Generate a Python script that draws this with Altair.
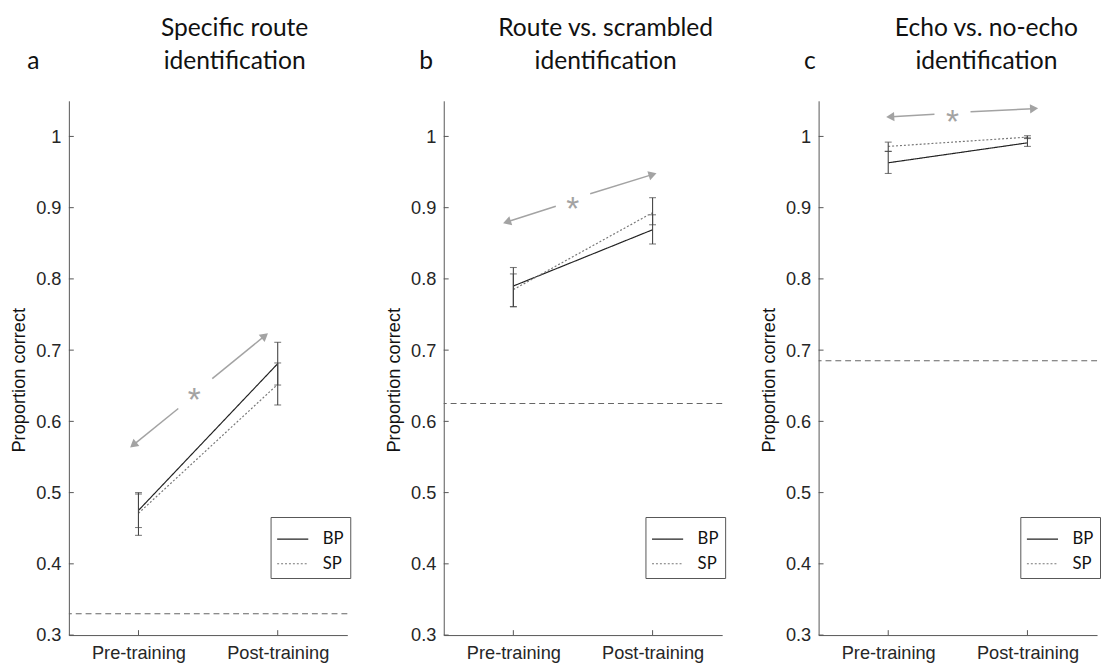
import math
import altair as alt
import pandas as pd

# ---------------- data ----------------
x_pos = [1, 2]
x_labels = ["Pre-training", "Post-training"]
series_names = ["BP", "SP"]
y_ticks = [0.3, 0.4, 0.5, 0.6, 0.7, 0.8, 0.9, 1.0]

# panel a: Specific route identification
bp_a = [0.475, 0.681]
bp_a_lo = [0.451, 0.651]
bp_a_hi = [0.500, 0.711]
sp_a = [0.471, 0.652]
sp_a_lo = [0.440, 0.623]
sp_a_hi = [0.498, 0.682]
chance_a = 0.33
arrow_a_tail_x = [1.286, 1.530]
arrow_a_tail_y = [0.618, 0.660]
arrow_a_tip_x = [0.970, 1.900]
arrow_a_tip_y = [0.568, 0.719]
star_a = [1.40, 0.642]

# panel b: Route vs. scrambled identification
bp_b = [0.790, 0.869]
bp_b_lo = [0.761, 0.849]
bp_b_hi = [0.816, 0.890]
sp_b = [0.785, 0.893]
sp_b_lo = [0.761, 0.876]
sp_b_hi = [0.807, 0.914]
chance_b = 0.625
arrow_b_tail_x = [1.305, 1.552]
arrow_b_tail_y = [0.902, 0.9195]
arrow_b_tip_x = [0.963, 1.991]
arrow_b_tip_y = [0.8805, 0.946]
star_b = [1.427, 0.911]

# panel c: Echo vs. no-echo identification
bp_c = [0.963, 0.991]
bp_c_lo = [0.948, 0.986]
bp_c_hi = [0.979, 0.998]
sp_c = [0.986, 0.999]
sp_c_lo = [0.979, 0.997]
sp_c_hi = [0.992, 1.001]
chance_c = 0.685
arrow_c_tail_x = [1.332, 1.591]
arrow_c_tail_y = [1.0312, 1.0345]
arrow_c_tip_x = [1.024, 2.038]
arrow_c_tip_y = [1.0276, 1.039]
star_c = [1.461, 1.033]

# ---------------- layout / style ----------------
W, H = 283, 543
XDOM = [0.5, 2.5]
YDOM = [0.3, 1.05]
KX = W / (XDOM[1] - XDOM[0])
KY = H / (YDOM[1] - YDOM[0])
AXIS_COLOR = "#555555"
TICK_FONT = "Liberation Sans"
TITLE_FONT = "Lato"
ARROW_COLOR = "#a3a3a3"

label_expr = " : ".join(
    [f"datum.value == {p} ? '{l}'" for p, l in zip(x_pos, x_labels)] + ["''"]
)


def xenc(field):
    return alt.X(
        f"{field}:Q",
        scale=alt.Scale(domain=XDOM, nice=False, zero=False),
        axis=alt.Axis(
            values=x_pos, labelExpr=label_expr, title=None, grid=False,
            ticks=False, tickSize=0, labelPadding=9, labelFontSize=18.5,
            labelFont=TICK_FONT, labelColor="#262626", domainColor=AXIS_COLOR,
            labelFlush=False,
        ),
    )


def yenc(field):
    return alt.Y(
        f"{field}:Q",
        scale=alt.Scale(domain=YDOM, nice=False, zero=False),
        axis=alt.Axis(
            values=y_ticks, format=".1~f", title="Proportion correct", grid=False,
            ticks=False, tickSize=0, labelPadding=8, labelFontSize=18.5,
            labelFont=TICK_FONT, labelColor="#262626", domainColor=AXIS_COLOR,
            titleFont=TICK_FONT, titleFontSize=18.5, titleFontWeight="normal",
            titleColor="#111111", titlePadding=7, labelFlush=False,
            titleY=H / 2 + 12,
        ),
    )


legend = alt.Legend(
    orient="none", legendX=205, legendY=423, title=None, symbolType="stroke",
    symbolSize=1000, symbolStrokeWidth=1.2, labelFont=TITLE_FONT, labelFontSize=17,
    labelColor="#111111", labelOffset=14, padding=6, rowPadding=-4,
    strokeColor="#555555", fillColor="white",
)


def panel(title, title_dx, letter, letter_dx, bp, bp_lo, bp_hi, sp, sp_lo, sp_hi,
          chance, tail_x, tail_y, tip_x, tip_y, star):
    rows = []
    for s, vals, lo, hi in [("BP", bp, bp_lo, bp_hi), ("SP", sp, sp_lo, sp_hi)]:
        for xp, v, l, h in zip(x_pos, vals, lo, hi):
            rows.append({"x": xp, "series": s, "value": v, "lo": l, "hi": h})
    df = pd.DataFrame(rows)
    caps = pd.concat([
        df[["x", "lo"]].rename(columns={"lo": "cap"}),
        df[["x", "hi"]].rename(columns={"hi": "cap"}),
    ])

    arrows = pd.DataFrame({"x": tail_x, "y": tail_y, "x2": tip_x, "y2": tip_y})
    arrows["ang"] = [
        math.degrees(math.atan2((x2 - x1) * KX, (y2 - y1) * KY)) % 360
        for x1, y1, x2, y2 in zip(tail_x, tail_y, tip_x, tip_y)
    ]

    chance_df = pd.DataFrame({"c": [chance]})
    chance_layer = alt.Chart(chance_df).mark_rule(
        color="#666666", strokeDash=[6, 4], strokeWidth=1.1
    ).encode(y=yenc("c"))

    lines = alt.Chart(df).mark_line(strokeWidth=1.2).encode(
        x=xenc("x"), y=yenc("value"),
        color=alt.Color("series:N", scale=alt.Scale(domain=series_names, range=["#222222", "#777777"]), legend=legend),
        strokeDash=alt.StrokeDash("series:N", scale=alt.Scale(domain=series_names, range=[[1, 0], [2, 2]]), legend=legend),
    )

    err = alt.Chart(df).mark_rule(color="#444444", strokeWidth=1.1).encode(
        x=xenc("x"), y=yenc("lo"), y2="hi:Q"
    )
    cap_layer = alt.Chart(caps).mark_tick(
        orient="horizontal", size=7, thickness=1.1, color="#444444"
    ).encode(x=xenc("x"), y=yenc("cap"))

    arrow_lines = alt.Chart(arrows).mark_rule(color=ARROW_COLOR, strokeWidth=1.5).encode(
        x=xenc("x"), y=yenc("y"), x2="x2:Q", y2="y2:Q"
    )
    heads = alt.Chart(arrows).mark_point(
        shape="triangle", filled=True, size=90, color=ARROW_COLOR, opacity=1
    ).encode(x=xenc("x2"), y=yenc("y2"), angle=alt.Angle("ang:Q", scale=None))

    star_df = pd.DataFrame({"x": [star[0]], "y": [star[1]], "t": ["*"]})
    star_layer = alt.Chart(star_df).mark_text(
        fontSize=34, color=ARROW_COLOR, font=TICK_FONT, dy=10
    ).encode(x=xenc("x"), y=yenc("y"), text="t:N")

    yt = alt.Chart(pd.DataFrame({"t": y_ticks})).mark_rule(color=AXIS_COLOR).encode(
        y=yenc("t"), x=alt.value(0), x2=alt.value(5)
    )
    xt = alt.Chart(pd.DataFrame({"t": x_pos})).mark_rule(color=AXIS_COLOR).encode(
        x=xenc("t"), y=alt.value(H), y2=alt.value(H - 5)
    )

    letter_layer = alt.Chart(pd.DataFrame({"t": [letter]})).mark_text(
        font=TITLE_FONT, fontSize=25, align="center", baseline="alphabetic", color="#111111"
    ).encode(text="t:N", x=alt.value(letter_dx), y=alt.value(-32))

    title_layer = alt.Chart(pd.DataFrame({"i": [0]})).mark_text(
        text=title, font=TITLE_FONT, fontSize=25, align="center", baseline="alphabetic",
        color="#111111", lineHeight=34,
    ).encode(x=alt.value(W / 2 + title_dx), y=alt.value(-32 - 34))

    return alt.layer(
        chance_layer, lines, err, cap_layer, arrow_lines, heads, star_layer, yt, xt,
        letter_layer, title_layer
    ).properties(width=W, height=H)


pa = panel(["Specific route", "identification"], 27, "a", -36,
           bp_a, bp_a_lo, bp_a_hi, sp_a, sp_a_lo, sp_a_hi, chance_a,
           arrow_a_tail_x, arrow_a_tail_y, arrow_a_tip_x, arrow_a_tip_y, star_a)
pb = panel(["Route vs. scrambled", "identification"], 23, "b", -18,
           bp_b, bp_b_lo, bp_b_hi, sp_b, sp_b_lo, sp_b_hi, chance_b,
           arrow_b_tail_x, arrow_b_tail_y, arrow_b_tip_x, arrow_b_tip_y, star_b)
pc = panel(["Echo vs. no-echo", "identification"], 29, "c", -9,
           bp_c, bp_c_lo, bp_c_hi, sp_c, sp_c_lo, sp_c_hi, chance_c,
           arrow_c_tail_x, arrow_c_tail_y, arrow_c_tip_x, arrow_c_tip_y, star_c)

chart = alt.hconcat(pa, pb, pc, spacing=34).resolve_scale(
    color="independent", strokeDash="independent"
).resolve_legend(
    color="independent", strokeDash="independent"
).properties(
    padding={"left": 10, "top": 11, "right": 0, "bottom": 0}, background="white"
).configure_view(stroke="transparent", strokeWidth=0)

chart.save("out.html", embed_options={"renderer": "svg", "actions": False})
